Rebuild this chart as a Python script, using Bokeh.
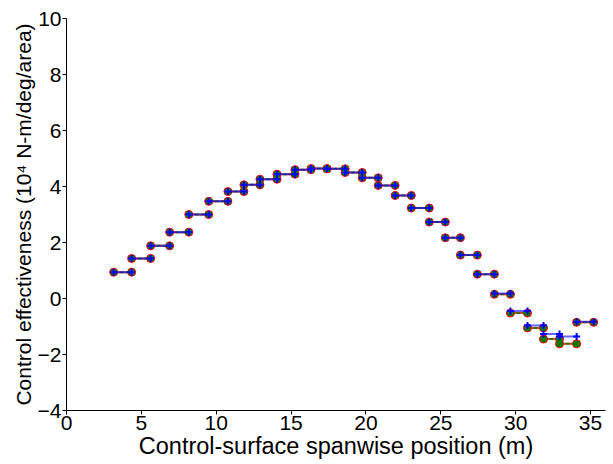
from bokeh.plotting import figure
from bokeh.models import ColumnDataSource, Range1d, FixedTicker
from bokeh.embed import file_html
from bokeh.resources import INLINE

# Segment edges along the span (m)
edges = [3.15, 4.35, 5.62, 6.89, 8.17, 9.50, 10.78, 11.85, 12.92, 14.06,
         15.26, 16.33, 17.40, 18.61, 19.75, 20.82, 21.95, 23.03, 24.23, 25.30,
         26.31, 27.44, 28.58, 29.65, 30.79, 31.86, 32.93, 34.07, 35.21]

red_vals = [0.94, 1.43, 1.88, 2.37, 3.00, 3.47, 3.82, 4.06, 4.26, 4.44,
            4.60, 4.64, 4.63, 4.50, 4.31, 4.04, 3.68, 3.23, 2.73, 2.17,
            1.55, 0.87, 0.15, -0.52, -1.05, -1.45, -1.62, -0.85]
green_vals = [0.94, 1.43, 1.88, 2.37, 3.00, 3.47, 3.82, 4.06, 4.26, 4.44,
              4.60, 4.64, 4.63, 4.50, 4.31, 4.04, 3.68, 3.23, 2.73, 2.17,
              1.55, 0.87, 0.15, -0.52, -1.05, -1.45, -1.62, -0.85]
blue_vals = [0.94, 1.43, 1.88, 2.37, 3.00, 3.47, 3.82, 4.06, 4.26, 4.44,
             4.60, 4.64, 4.63, 4.50, 4.31, 4.04, 3.68, 3.23, 2.73, 2.17,
             1.55, 0.87, 0.18, -0.45, -0.96, -1.27, -1.36, -0.83]

x_ticks = [0, 5, 10, 15, 20, 25, 30, 35]
y_ticks = [-4, -2, 0, 2, 4, 6, 8, 10]

FONT = "Liberation Sans"

p = figure(width=613, height=464, output_backend="svg", toolbar_location=None,
           x_range=Range1d(0, 36), y_range=Range1d(-4, 10),
           min_border_left=66, min_border_right=8, min_border_top=18,
           min_border_bottom=54)
p.outline_line_color = None
p.xgrid.visible = False
p.ygrid.visible = False
p.background_fill_color = "white"
p.border_fill_color = "white"

x0 = edges[:-1]
x1 = edges[1:]

styles = [
    (red_vals, "red", None, "circle", 8, 2.0, 0.8, 1),
    (green_vals, "green", "4 2", "square", 5, 2.0, 0.8, 1),
    (blue_vals, "blue", None, "cross", 7, 2.0, 0.6, 2),
]

for vals, color, dash, marker, size, lw, alpha, mlw in styles:
    src = ColumnDataSource(dict(x0=x0, x1=x1, y=vals))
    kw = dict(line_color=color, line_width=lw, line_alpha=alpha)
    if dash:
        kw["line_dash"] = dash
    p.segment(x0="x0", y0="y", x1="x1", y1="y", source=src, **kw)
    for xc in ("x0", "x1"):
        p.scatter(x=xc, y="y", source=src, marker=marker, size=size,
                  fill_color=color, line_color=color, line_width=mlw)

p.xaxis.ticker = FixedTicker(ticks=x_ticks)
p.yaxis.ticker = FixedTicker(ticks=y_ticks)
p.yaxis.major_label_overrides = {t: (str(t).replace("-", "\u2212")) for t in y_ticks}
p.xaxis.axis_label = "Control-surface spanwise position (m)"
p.yaxis.axis_label = "Control effectiveness (10\u2074 N-m/deg/area)"

for ax, lsize in ((p.xaxis[0], "23.5px"), (p.yaxis[0], "21px")):
    ax.axis_label_text_font = FONT
    ax.axis_label_text_font_size = lsize
    ax.axis_label_text_font_style = "normal"
    ax.axis_label_text_color = "black"
    ax.major_label_text_font = FONT
    ax.major_label_text_font_size = "21px"
    ax.major_label_text_color = "black"
    ax.axis_line_color = "black"
    ax.axis_line_width = 1
    ax.major_tick_line_color = "black"
    ax.major_tick_in = 0
    ax.major_tick_out = 4
    ax.minor_tick_line_color = None
    ax.major_label_standoff = 1
    ax.axis_label_standoff = 0

open("out.html", "w").write(file_html(p, INLINE))
